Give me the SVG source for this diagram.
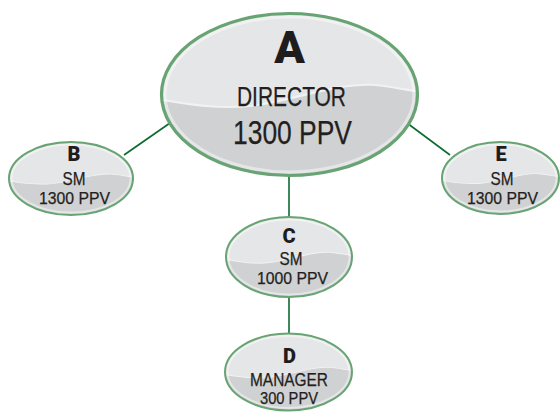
<svg xmlns="http://www.w3.org/2000/svg" xmlns:xlink="http://www.w3.org/1999/xlink" width="560" height="412" viewBox="0 0 560 412">
  <style>
    .link { stroke: #0d6b31; stroke-width: 1.6; fill: none; }
    .rim { fill: none; stroke: #68a473; }
    .inner { fill: none; stroke: #ffffff; stroke-opacity: 0.45; }
    .letter { font-family: "Roboto", "Lato", "Liberation Sans", sans-serif; font-weight: 900; fill: #1f1c1d; text-anchor: middle; }
    .lbl { font-family: "Liberation Sans", "Lato", sans-serif; font-weight: 400; fill: #231f20; stroke: #231f20; stroke-width: 0.25; text-anchor: middle; }
  </style>
  <defs>
    <clipPath id="unit">
      <circle cx="0" cy="0" r="1"/>
    </clipPath>
    <g id="blob">
      <circle cx="0" cy="0" r="1" fill="#d0d1d3"/>
      <path clip-path="url(#unit)" fill="#e5e6e8" d="M -1.1,0.04 C -0.85,0.1 -0.6,0.19 -0.3,0.14 C 0.05,0.07 0.35,-0.14 0.65,-0.12 C 0.82,-0.1 0.95,-0.03 1.1,-0.03 L 1.1,-1.1 L -1.1,-1.1 Z"/>
      <path clip-path="url(#unit)" fill="none" stroke="#f2f2f3" stroke-width="0.025" d="M -1.1,0.04 C -0.85,0.1 -0.6,0.19 -0.3,0.14 C 0.05,0.07 0.35,-0.14 0.65,-0.12 C 0.82,-0.1 0.95,-0.03 1.1,-0.03"/>
    </g>
  </defs>

  <g id="connectors">
    <line class="link" x1="124" y1="155" x2="170" y2="123"/>
    <line class="link" x1="407" y1="123" x2="450" y2="155"/>
    <line class="link" x1="289" y1="172" x2="289" y2="220"/>
    <line class="link" x1="289" y1="294" x2="289" y2="336"/>
  </g>

  <g id="node-a">
    <use xlink:href="#blob" transform="translate(289.5,94.5) scale(128,81)"/>
    <ellipse class="inner" cx="289.5" cy="94.5" rx="124.5" ry="77.5" stroke-width="3"/>
    <ellipse class="rim" cx="289.5" cy="94.5" rx="128" ry="81" stroke-width="3.2"/>
    <text class="letter" x="289.5" y="63" font-size="45">A</text>
    <text class="lbl" x="291.5" y="105.5" font-size="27.5" textLength="109" lengthAdjust="spacingAndGlyphs">DIRECTOR</text>
    <text class="lbl" x="292.5" y="144" font-size="34" textLength="119" lengthAdjust="spacingAndGlyphs">1300 PPV</text>
  </g>

  <g id="node-b">
    <use xlink:href="#blob" transform="translate(71,178.5) scale(62,36.5)"/>
    <ellipse class="inner" cx="71" cy="178.5" rx="59.5" ry="34" stroke-width="2"/>
    <ellipse class="rim" cx="71" cy="178.5" rx="62" ry="36.5" stroke-width="2"/>
    <text class="letter" x="74" y="160.5" font-size="20">B</text>
    <text class="lbl" x="74" y="184.5" font-size="19" textLength="23" lengthAdjust="spacingAndGlyphs">SM</text>
    <text class="lbl" x="74.5" y="203.5" font-size="16.5" textLength="71" lengthAdjust="spacingAndGlyphs">1300 PPV</text>
  </g>

  <g id="node-e">
    <use xlink:href="#blob" transform="translate(500.5,178) scale(58.5,36)"/>
    <ellipse class="inner" cx="500.5" cy="178" rx="56" ry="33.5" stroke-width="2"/>
    <ellipse class="rim" cx="500.5" cy="178" rx="58.5" ry="36" stroke-width="2"/>
    <text class="letter" x="501" y="160.5" font-size="20">E</text>
    <text class="lbl" x="502" y="184.5" font-size="19" textLength="23" lengthAdjust="spacingAndGlyphs">SM</text>
    <text class="lbl" x="502.5" y="203.5" font-size="16.5" textLength="71" lengthAdjust="spacingAndGlyphs">1300 PPV</text>
  </g>

  <g id="node-c">
    <use xlink:href="#blob" transform="translate(289,257) scale(63,40)"/>
    <ellipse class="inner" cx="289" cy="257" rx="60.5" ry="37.5" stroke-width="2"/>
    <ellipse class="rim" cx="289" cy="257" rx="63" ry="40" stroke-width="2"/>
    <text class="letter" x="289" y="242.5" font-size="20">C</text>
    <text class="lbl" x="291" y="265" font-size="19" textLength="23" lengthAdjust="spacingAndGlyphs">SM</text>
    <text class="lbl" x="292.5" y="284" font-size="16.5" textLength="71" lengthAdjust="spacingAndGlyphs">1000 PPV</text>
  </g>

  <g id="node-d">
    <use xlink:href="#blob" transform="translate(288.5,372) scale(63.5,38.5)"/>
    <ellipse class="inner" cx="288.5" cy="372" rx="61" ry="36" stroke-width="2"/>
    <ellipse class="rim" cx="288.5" cy="372" rx="63.5" ry="38.5" stroke-width="2"/>
    <text class="letter" x="289.5" y="363" font-size="20">D</text>
    <text class="lbl" x="289" y="385.5" font-size="18.5" textLength="78" lengthAdjust="spacingAndGlyphs">MANAGER</text>
    <text class="lbl" x="289" y="404" font-size="16" textLength="58" lengthAdjust="spacingAndGlyphs">300 PPV</text>
  </g>
</svg>
